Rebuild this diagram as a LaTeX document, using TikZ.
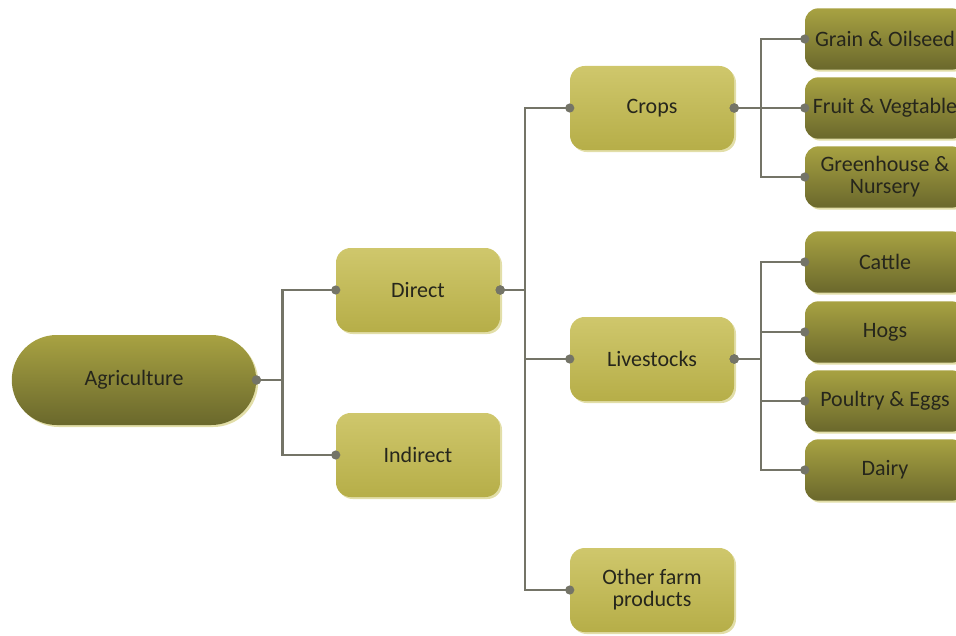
\documentclass[tikz,border=0pt]{standalone}
\usepackage{fontspec}
\setsansfont{Carlito}
\usetikzlibrary{arrows.meta,shadows,shapes.misc}

\definecolor{lightTop}{HTML}{CFC76C}
\definecolor{lightBot}{HTML}{B6AE48}
\definecolor{darkTop}{HTML}{A8A242}
\definecolor{darkBot}{HTML}{6A682C}
\definecolor{shadowCol}{HTML}{E2DEA8}
\definecolor{lineCol}{HTML}{747467}
\definecolor{textCol}{HTML}{26261C}

\tikzset{
  boxfont/.style={text=textCol, align=center, font=\sffamily\fontsize{16.5}{16.5}\selectfont},
  lightbox/.style={boxfont, rounded corners=11pt, minimum width=123pt, minimum height=63pt,
    top color=lightTop, bottom color=lightBot,
    drop shadow={shadow xshift=1.5pt, shadow yshift=-1.5pt, fill=shadowCol, opacity=1}},
  darkbox/.style={boxfont, rounded corners=10pt, minimum width=120pt, minimum height=46pt,
    top color=darkTop, bottom color=darkBot,
    drop shadow={shadow xshift=1.5pt, shadow yshift=-1.5pt, fill=shadowCol, opacity=1}},
  rootbox/.style={boxfont, rounded rectangle, minimum width=190pt, minimum height=67.5pt,
    top color=darkTop, bottom color=darkBot,
    drop shadow={shadow xshift=1.5pt, shadow yshift=-1.5pt, fill=shadowCol, opacity=1}},
  conn/.style={draw=lineCol, line width=1.6pt, line join=miter,
    {Circle[length=6.75pt]}-{Circle[length=6.75pt]}, shorten <=-3.4pt, shorten >=-3.4pt},
}

\begin{document}
\begin{tikzpicture}[x=0.75pt,y=-0.75pt]

    \clip (0,0) rectangle (956,635);

    % root
    \node[rootbox] (agri) at (134,380) {Agriculture};

    % first level
    \node[lightbox] (direct) at (418,290) {Direct};
    \node[lightbox] (indirect) at (418,455) {Indirect};

    % second level
    \node[lightbox] (crops) at (652,108) {Crops};
    \node[lightbox] (livestock) at (652,359) {Livestocks};
    \node[lightbox] (other) at (652,590) {Other farm\\products};

    % crops
    \node[darkbox] (grain) at (885,39) {Grain \& Oilseed};
    \node[darkbox] (fruit) at (885,108) {Fruit \& Vegtable};
    \node[darkbox] (green) at (885,177) {Greenhouse \&\\Nursery};

    % livestocks
    \node[darkbox] (cattle) at (885,262) {Cattle};
    \node[darkbox] (hogs) at (885,332) {Hogs};
    \node[darkbox] (poultry) at (885,401) {Poultry \& Eggs};
    \node[darkbox] (dairy) at (885,470) {Dairy};

    \draw[conn] (agri.east) -- ++(26,0) |- (direct.west);
    \draw[conn] (agri.east) -- ++(26,0) |- (indirect.west);

    \draw[conn] (direct.east) -- ++(25,0) |- (crops.west);
    \draw[conn] (direct.east) -- ++(25,0) |- (livestock.west);
    \draw[conn] (direct.east) -- ++(25,0) |- (other.west);

    \foreach \leaf in {grain,fruit,green}
        \draw[conn] (crops.east) -- ++(27,0) |- (\leaf.west);
    \foreach \leaf in {cattle,hogs,poultry,dairy}
        \draw[conn] (livestock.east) -- ++(27,0) |- (\leaf.west);

\end{tikzpicture}
\end{document}
